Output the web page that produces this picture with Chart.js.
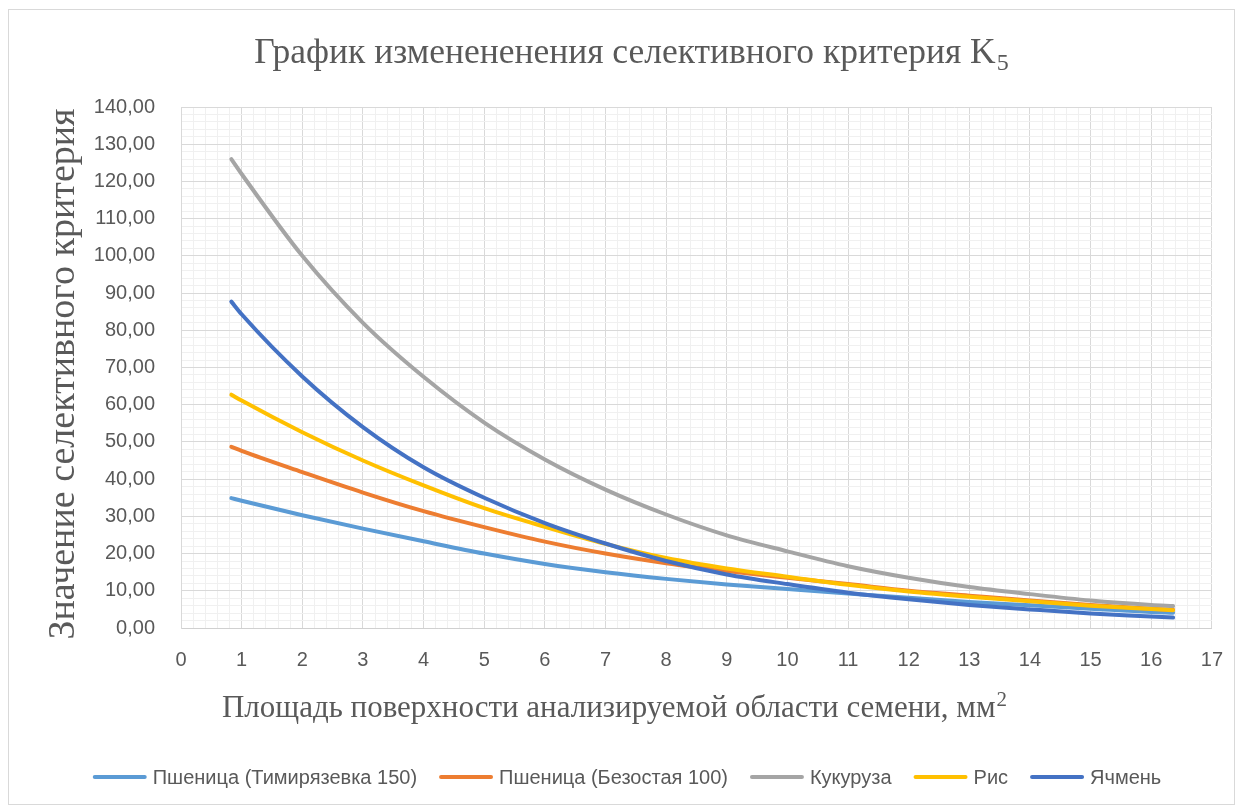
<!DOCTYPE html>
<html><head><meta charset="utf-8">
<script src="https://cdn.jsdelivr.net/npm/chart.js@4.4.1/dist/chart.umd.min.js"></script>
<style>html,body{margin:0;padding:0;background:#fff}#wrap{position:relative;width:1243px;height:811px}</style>
</head><body><div id="wrap"><canvas id="c" width="1243" height="811"></canvas></div>
<script>
// ---- data ----
const xValues      = [0.83, 1, 2, 3, 4, 5, 6, 7, 8, 9, 10, 11, 12, 13, 14, 15, 16, 16.36];
const timiryazevka = [34.9, 34.2, 30.3, 26.7, 23.3, 20.0, 17.2, 15.0, 13.2, 11.7, 10.5, 9.3, 8.1, 7.0, 6.1, 5.2, 4.3, 4.1];
const bezostaya    = [48.7, 47.6, 41.9, 36.4, 31.4, 27.1, 23.2, 20.0, 17.4, 15.3, 13.5, 11.8, 10.0, 8.7, 7.4, 6.2, 5.2, 4.9];
const kukuruza     = [126, 122, 100, 82, 67.5, 55.2, 45.3, 37.2, 30.5, 24.9, 20.6, 16.6, 13.5, 11.0, 9.1, 7.4, 6.2, 5.9];
const ris          = [62.7, 61.1, 52.6, 45.0, 38.3, 32.2, 27.2, 22.6, 18.8, 16.0, 13.8, 11.6, 9.8, 8.4, 7.2, 6.0, 5.1, 4.8];
const yachmen      = [87.7, 84.3, 67.6, 54.0, 43.2, 35.0, 28.2, 22.7, 18.0, 14.4, 11.8, 9.5, 7.7, 6.2, 5.0, 3.9, 3.1, 2.8];
const seriesNames  = ['Пшеница (Тимирязевка 150)', 'Пшеница (Безостая 100)', 'Кукуруза', 'Рис', 'Ячмень'];
const seriesColors = ['#5B9BD5', '#ED7D31', '#A5A5A5', '#FFC000', '#4472C4'];
const xMin = 0, xMax = 17, xMajor = 1, xMinor = 0.2;
const yMin = 0, yMax = 140, yMajor = 10, yMinor = 2;
const titleMain = 'График изменененения селективного критерия K';
const titleSub = '5';
const xTitleMain = 'Площадь поверхности анализируемой области семени, мм';
const xTitleSup = '2';
const yTitle = 'Значение селективного критерия';

const seriesValues = [timiryazevka, bezostaya, kukuruza, ris, yachmen];
const isMajor = (v, step) => Math.abs(v / step - Math.round(v / step)) < 1e-6;
const textColor = '#595959';

const datasets = seriesValues.map((vals, i) => ({
  label: seriesNames[i],
  data: xValues.map((x, j) => ({x: x, y: vals[j]})),
  borderColor: seriesColors[i],
  backgroundColor: seriesColors[i],
  borderWidth: 4,
  pointRadius: 0,
  cubicInterpolationMode: 'monotone',
  borderCapStyle: 'round',
  fill: false,
  order: seriesValues.length - i
}));

function drawScript(ctx, main, small, cx, baseY, mainFont, smallFont, dy) {
  ctx.font = mainFont;
  const w1 = ctx.measureText(main).width;
  ctx.font = smallFont;
  const w2 = ctx.measureText(small).width;
  const sx = cx - (w1 + w2) / 2;
  ctx.font = mainFont;
  ctx.fillText(main, sx, baseY);
  ctx.font = smallFont;
  ctx.fillText(small, sx + w1 + 1, baseY + dy);
}

const decorPlugin = {
  id: 'decor',
  afterDraw(chart) {
    const ctx = chart.ctx;
    ctx.save();
    // frame
    ctx.strokeStyle = '#d9d9d9';
    ctx.lineWidth = 1;
    ctx.strokeRect(8.5, 9.5, 1226, 795);
    ctx.fillStyle = textColor;
    ctx.textBaseline = 'alphabetic';
    ctx.textAlign = 'left';
    // chart title with subscript
    drawScript(ctx, titleMain, titleSub, 631, 63, '35.5px "Liberation Serif"', '24px "Liberation Serif"', 7);
    // x axis title with superscript
    drawScript(ctx, xTitleMain, xTitleSup, 614, 717, '31px "Liberation Serif"', '21px "Liberation Serif"', -11);
    // y axis title (rotated)
    ctx.save();
    ctx.translate(64, 374);
    ctx.rotate(-Math.PI / 2);
    ctx.font = '38px "Liberation Serif"';
    ctx.textAlign = 'center';
    ctx.textBaseline = 'middle';
    ctx.fillText(yTitle, 0, 0);
    ctx.restore();
    // legend
    ctx.font = '20px "Liberation Sans"';
    ctx.textAlign = 'left';
    const lineW = 54, gapT = 6, gapI = 22;
    const widths = seriesNames.map(n => ctx.measureText(n).width);
    const total = widths.reduce((a, b) => a + b, 0) + seriesNames.length * (lineW + gapT) + (seriesNames.length - 1) * gapI;
    let x = 627 - total / 2;
    const ly = 777;
    ctx.textBaseline = 'middle';
    seriesNames.forEach((n, i) => {
      ctx.strokeStyle = seriesColors[i];
      ctx.lineWidth = 4;
      ctx.lineCap = 'round';
      ctx.beginPath();
      ctx.moveTo(x + 2, ly);
      ctx.lineTo(x + lineW - 2, ly);
      ctx.stroke();
      ctx.fillStyle = textColor;
      ctx.fillText(n, x + lineW + gapT, ly + 1);
      x += lineW + gapT + widths[i] + gapI;
    });
    ctx.restore();
  }
};

new Chart(document.getElementById('c'), {
  type: 'line',
  data: { datasets: datasets },
  plugins: [decorPlugin],
  options: {
    responsive: false,
    animation: false,
    events: [],
    layout: { padding: { left: 0, right: 29, top: 107, bottom: 83 } },
    plugins: { legend: { display: false }, tooltip: { enabled: false }, title: { display: false } },
    scales: {
      x: {
        type: 'linear', min: xMin, max: xMax,
        ticks: {
          stepSize: xMinor, autoSkip: false, maxRotation: 0, padding: 20,
          color: textColor, font: { family: 'Liberation Sans', size: 20 },
          callback: v => isMajor(v, xMajor) ? String(Math.round(v)) : ''
        },
        grid: { color: c => isMajor(c.tick.value, xMajor) ? '#d9d9d9' : '#f0f0f0', drawTicks: false, lineWidth: 1 },
        border: { color: '#d0d0d0', width: 1 },
        title: { display: false },
        afterFit: s => { s.height = 100; }
      },
      y: {
        type: 'linear', min: yMin, max: yMax,
        ticks: {
          stepSize: yMinor, autoSkip: false, padding: 26,
          color: textColor, font: { family: 'Liberation Sans', size: 20 },
          callback: v => isMajor(v, yMajor) ? v.toFixed(2).replace('.', ',') : ''
        },
        grid: { color: c => isMajor(c.tick.value, yMajor) ? '#d9d9d9' : '#f0f0f0', drawTicks: false, lineWidth: 1 },
        border: { color: '#d9d9d9', width: 1 },
        title: { display: false },
        afterFit: s => { s.width = 181; }
      }
    }
  }
});
</script>
</body></html>
